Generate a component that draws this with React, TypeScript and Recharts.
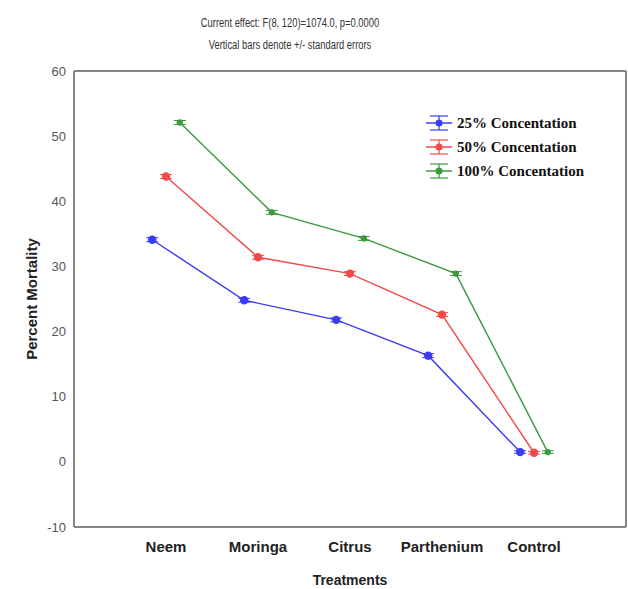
import { LineChart, Line, XAxis, YAxis, ErrorBar, ReferenceLine, Label } from 'recharts';

const treatments = ['Neem', 'Moringa', 'Citrus', 'Parthenium', 'Control'];
const conc25 = [34.1, 24.8, 21.8, 16.3, 1.5];
const conc50 = [43.8, 31.4, 28.9, 22.6, 1.4];
const conc100 = [52.1, 38.3, 34.3, 28.9, 1.5];
const se25 = [0.3, 0.3, 0.3, 0.3, 0.2];
const se50 = [0.3, 0.3, 0.3, 0.3, 0.2];
const se100 = [0.3, 0.3, 0.3, 0.3, 0.2];
const yTicks = [-10, 0, 10, 20, 30, 40, 50, 60];

const series = [
  { name: '25% Concentation', values: conc25, se: se25, color: '#3b3bf2', offset: -0.15, r: 3.5 },
  { name: '50% Concentation', values: conc50, se: se50, color: '#f24a4a', offset: 0, r: 3.5 },
  { name: '100% Concentation', values: conc100, se: se100, color: '#3c9a3c', offset: 0.15, r: 2.5 },
];

const axisColor = '#858585';
const sans = 'Liberation Sans, Arial, sans-serif';

function LegendSymbol({ color }: { color: string }) {
  return (
    <svg width={28} height={20} style={{ display: 'block' }}>
      <line x1={1} y1={10} x2={27} y2={10} stroke={color} strokeWidth={1.5} />
      <line x1={14} y1={3} x2={14} y2={17} stroke={color} strokeWidth={1.2} />
      <line x1={5} y1={3} x2={23} y2={3} stroke={color} strokeWidth={1.2} />
      <line x1={5} y1={17} x2={23} y2={17} stroke={color} strokeWidth={1.2} />
      <circle cx={14} cy={10} r={3.5} fill={color} />
    </svg>
  );
}

export default function App() {
  return (
    <div style={{ position: 'absolute', left: 0, top: 0, width: 628, height: 589, background: '#fff' }}>
      <div
        style={{
          position: 'absolute', left: 0, width: 580, top: 12, textAlign: 'center',
          fontFamily: sans, fontSize: 12, color: '#333', lineHeight: '22px',
          transform: 'scaleX(0.78)', transformOrigin: '290px 0',
        }}
      >
        <div>Current effect: F(8, 120)=1074.0, p=0.0000</div>
        <div>Vertical bars denote +/- standard errors</div>
      </div>
      <LineChart width={628} height={589} margin={{ top: 71, right: 2, left: 0, bottom: 0 }}>
        <XAxis
          type="number"
          dataKey="x"
          domain={[-1, 5]}
          ticks={[0, 1, 2, 3, 4]}
          tickFormatter={(i: number) => treatments[i] ?? ''}
          height={62}
          stroke={axisColor}
          strokeWidth={2}
          tickLine={false}
          tickSize={0}
          tickMargin={14}
          tick={{ fill: '#222', fontSize: 15, fontWeight: 'bold', fontFamily: sans }}
          allowDataOverflow
        >
          <Label value="Treatments" position="insideBottom" offset={4} style={{ fill: '#222', fontSize: 14, fontWeight: 'bold', fontFamily: sans }} />
        </XAxis>
        <YAxis
          type="number"
          domain={[-10, 60]}
          ticks={yTicks}
          width={74}
          stroke={axisColor}
          strokeWidth={2}
          tickLine={false}
          tickSize={0}
          tickMargin={8}
          tick={{ fill: '#555', fontSize: 13, fontFamily: sans }}
        >
          <Label value="Percent Mortality" angle={-90} position="center" dx={-5} style={{ fill: '#222', fontSize: 15, fontWeight: 'bold', fontFamily: sans, textAnchor: 'middle' }} />
        </YAxis>
        <ReferenceLine y={60} stroke={axisColor} strokeWidth={2} />
        <ReferenceLine x={5} stroke={axisColor} strokeWidth={2} />
        {series.map((s) => (
          <Line
            key={s.name}
            name={s.name}
            data={treatments.map((t, i) => ({ name: t, x: i + s.offset, y: s.values[i], err: s.se[i] }))}
            dataKey="y"
            stroke={s.color}
            strokeWidth={1.4}
            dot={{ r: s.r, fill: s.color, stroke: s.color }}
            activeDot={false}
            isAnimationActive={false}
          >
            <ErrorBar dataKey="err" direction="y" width={6} stroke={s.color} strokeWidth={1} />
          </Line>
        ))}
      </LineChart>
      <div style={{ position: 'absolute', left: 425, top: 111 }}>
        {series.map((s) => (
          <div key={s.name} style={{ display: 'flex', alignItems: 'center', height: 24 }}>
            <LegendSymbol color={s.color} />
            <span style={{ marginLeft: 4, fontFamily: "'Liberation Serif', 'Times New Roman', serif", fontWeight: 'bold', fontSize: 15, color: '#111' }}>
              {s.name}
            </span>
          </div>
        ))}
      </div>
    </div>
  );
}
